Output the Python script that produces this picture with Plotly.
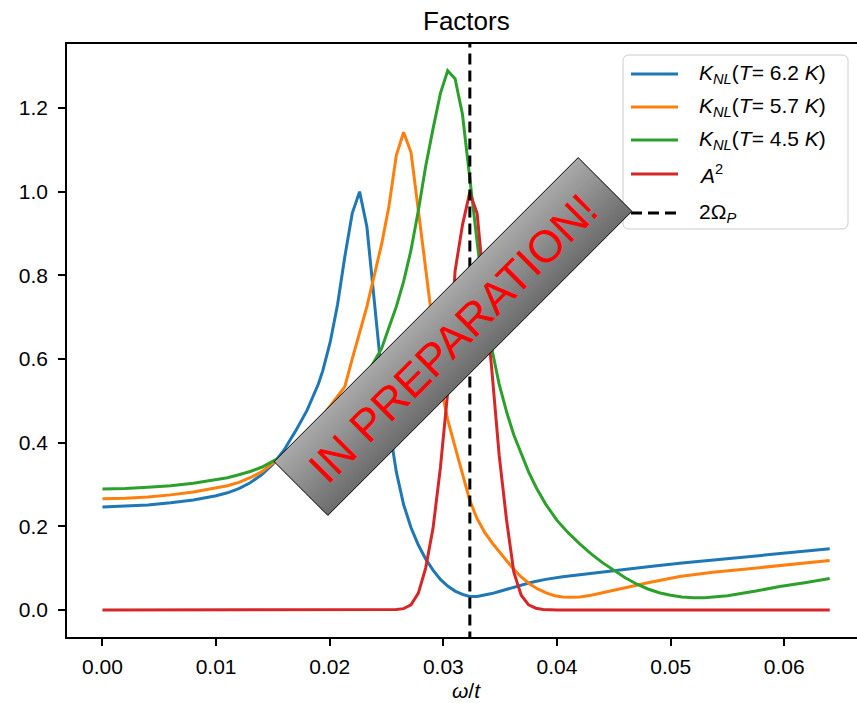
import plotly.graph_objects as go

# ---------------------------------------------------------------- data
# nonlinear kernel K_NL(omega/t) for three temperatures, and A^2
X_T62 = [0.0, 0.002, 0.004, 0.006, 0.008, 0.010, 0.011, 0.012, 0.013, 0.014,
         0.015, 0.016, 0.017, 0.018, 0.019, 0.01939, 0.02004, 0.02069, 0.02133,
         0.02198, 0.02263, 0.02327, 0.02392, 0.02457, 0.02521, 0.02586, 0.0265,
         0.02715, 0.0278, 0.02844, 0.02909, 0.02974, 0.03038, 0.03103, 0.03168,
         0.03232, 0.03297, 0.03362, 0.03426, 0.03491, 0.0355, 0.0362, 0.0369,
         0.0376, 0.0383, 0.039, 0.0405, 0.042, 0.045, 0.048, 0.051, 0.054,
         0.057, 0.060, 0.064]
K_T62 = [0.246, 0.248, 0.251, 0.256, 0.263, 0.273, 0.280, 0.290, 0.304, 0.323,
         0.348, 0.383, 0.428, 0.477, 0.540, 0.572, 0.640, 0.730, 0.845,
         0.948, 1.000, 0.916, 0.730, 0.562, 0.443, 0.330, 0.252,
         0.197, 0.155, 0.122, 0.095, 0.073, 0.057, 0.045, 0.037,
         0.032, 0.032, 0.035, 0.039, 0.044, 0.049, 0.055, 0.060,
         0.065, 0.069, 0.073, 0.079, 0.084, 0.094, 0.103, 0.112, 0.120,
         0.128, 0.136, 0.146]

X_T57 = [0.0, 0.002, 0.004, 0.006, 0.008, 0.010, 0.011, 0.012, 0.013, 0.014,
         0.015, 0.016, 0.017, 0.018, 0.019, 0.020, 0.02069, 0.02133, 0.02198,
         0.02263, 0.02327, 0.02392, 0.02457, 0.02521, 0.02586, 0.0265, 0.02715,
         0.0278, 0.02844, 0.02909, 0.02974, 0.03038, 0.03103, 0.03168, 0.03232,
         0.03297, 0.03362, 0.0343, 0.035, 0.0355, 0.0361, 0.0368, 0.0376, 0.0383,
         0.0391, 0.0398, 0.0405, 0.0412, 0.042, 0.043, 0.044, 0.0452, 0.0464,
         0.048, 0.0508, 0.0537, 0.0567, 0.060, 0.064]
K_T57 = [0.266, 0.267, 0.270, 0.275, 0.282, 0.291, 0.297, 0.305, 0.316, 0.330,
         0.350, 0.372, 0.395, 0.420, 0.450, 0.485, 0.510, 0.534, 0.600,
         0.665, 0.725, 0.800, 0.875, 0.965, 1.087, 1.142, 1.094,
         0.955, 0.810, 0.675, 0.540, 0.455, 0.390, 0.325, 0.262,
         0.218, 0.186, 0.160, 0.137, 0.120, 0.100, 0.080, 0.062, 0.050,
         0.040, 0.034, 0.031, 0.030, 0.031, 0.035, 0.041, 0.049, 0.057,
         0.065, 0.080, 0.090, 0.098, 0.107, 0.118]

X_T45 = [0.0, 0.002, 0.004, 0.006, 0.008, 0.010, 0.011, 0.012, 0.013, 0.014,
         0.015, 0.016, 0.017, 0.018, 0.019, 0.0205, 0.022, 0.0233, 0.02457,
         0.02521, 0.02586, 0.0265, 0.02715, 0.0278, 0.02844, 0.02909, 0.02974,
         0.03038, 0.03103, 0.03168, 0.03232, 0.03297, 0.03362, 0.03426, 0.03491,
         0.0356, 0.0362, 0.0369, 0.0375, 0.0382, 0.039, 0.040, 0.041, 0.042,
         0.043, 0.044, 0.045, 0.046, 0.047, 0.048, 0.049, 0.050, 0.051, 0.052,
         0.053, 0.054, 0.055, 0.0575, 0.0596, 0.0618, 0.064]
K_T45 = [0.289, 0.290, 0.293, 0.297, 0.303, 0.311, 0.316, 0.323, 0.331, 0.341,
         0.355, 0.370, 0.386, 0.405, 0.425, 0.465, 0.515, 0.565, 0.625,
         0.675, 0.725, 0.785, 0.860, 0.955, 1.060, 1.150, 1.235,
         1.289, 1.270, 1.185, 1.030, 0.880, 0.735, 0.625, 0.540,
         0.470, 0.418, 0.368, 0.330, 0.291, 0.253, 0.214, 0.184, 0.158,
         0.134, 0.113, 0.094, 0.077, 0.062, 0.050, 0.041, 0.035, 0.031, 0.029,
         0.029, 0.031, 0.034, 0.045, 0.056, 0.065, 0.075]

X_A2 = [0.0, 0.024, 0.0252, 0.02586, 0.0265, 0.02715, 0.0278, 0.02844, 0.02909,
        0.02974, 0.03038, 0.03103, 0.03168, 0.03232, 0.03297, 0.03362, 0.03426,
        0.03491, 0.03556, 0.0362, 0.03685, 0.0375, 0.03814, 0.03879, 0.040, 0.064]
A2 = [0.0, 0.0, 0.0, 0.001, 0.003, 0.012, 0.04, 0.10, 0.195,
      0.34, 0.52, 0.81, 0.92, 0.998, 0.948, 0.765, 0.575,
      0.37, 0.215, 0.09, 0.035, 0.012, 0.004, 0.001, 0.0, 0.0]

OMEGA_P2 = 0.03233  # 2*Omega_P

X_TICKS = [0.0, 0.01, 0.02, 0.03, 0.04, 0.05, 0.06]
X_TICK_TEXT = ["0.00", "0.01", "0.02", "0.03", "0.04", "0.05", "0.06"]
Y_TICKS = [0.0, 0.2, 0.4, 0.6, 0.8, 1.0, 1.2]
Y_TICK_TEXT = ["0.0", "0.2", "0.4", "0.6", "0.8", "1.0", "1.2"]

LABELS = [
    "<i>K</i><sub><i>NL</i></sub>(<i>T</i>= 6.2 <i>K</i>)",
    "<i>K</i><sub><i>NL</i></sub>(<i>T</i>= 5.7 <i>K</i>)",
    "<i>K</i><sub><i>NL</i></sub>(<i>T</i>= 4.5 <i>K</i>)",
    "<i>A</i><sup>2</sup>",
    "2Ω<sub><i>P</i></sub>",
]
COLORS = ["#1f77b4", "#ff7f0e", "#2ca02c", "#d62728", "black"]

# ---------------------------------------------------------------- layout geometry (pixels)
FIG_W, FIG_H = 857, 703
AX_L, AX_R, AX_T, AX_B = 67, 857, 44, 637
FONT = "Liberation Sans, Arial, Helvetica, sans-serif"


def paper(px, py):
    return (px - AX_L) / (AX_R - AX_L), (AX_B - py) / (AX_B - AX_T)


def P(x, y):
    a, b = paper(x, y)
    return f"{a:.5f},{b:.5f}"


def poly_path(points):
    return "M " + " L ".join(P(x, y) for x, y in points) + " Z"


fig = go.Figure()

series = [(X_T62, K_T62), (X_T57, K_T57), (X_T45, K_T45), (X_A2, A2)]
for (xs, ys), name, color in zip(series, LABELS, COLORS):
    fig.add_trace(go.Scatter(x=xs, y=ys, mode="lines", name=name,
                             line=dict(color=color, width=3),
                             showlegend=False, hoverinfo="skip"))

fig.add_trace(go.Scatter(x=[OMEGA_P2, OMEGA_P2], y=[-0.2, 1.5], mode="lines",
                         line=dict(color="black", width=3, dash="11px,6px"),
                         showlegend=False, hoverinfo="skip"))

shapes = []
annotations = []

# legend box with rounded corners
lx0, lx1, ly0, ly1, r = 623, 848, 55, 229, 6
legend_path = (f"M {P(lx0 + r, ly0)} L {P(lx1 - r, ly0)} Q {P(lx1, ly0)} {P(lx1, ly0 + r)} "
               f"L {P(lx1, ly1 - r)} Q {P(lx1, ly1)} {P(lx1 - r, ly1)} "
               f"L {P(lx0 + r, ly1)} Q {P(lx0, ly1)} {P(lx0, ly1 - r)} "
               f"L {P(lx0, ly0 + r)} Q {P(lx0, ly0)} {P(lx0 + r, ly0)} Z")
shapes.append(dict(type="path", path=legend_path, xref="paper", yref="paper",
                   fillcolor="rgba(255,255,255,0.8)", line=dict(color="#cccccc", width=1),
                   layer="above"))

row_y = [74, 107, 140, 174, 213]
for i, (lab, col, yy) in enumerate(zip(LABELS, COLORS, row_y)):
    x0, y0 = paper(631, yy)
    x1, _ = paper(678, yy)
    shapes.append(dict(type="line", xref="paper", yref="paper", x0=x0, x1=x1, y0=y0, y1=y0,
                       line=dict(color=col, width=3, dash="11px,6px" if i == 4 else "solid"),
                       layer="above"))
    tx, ty = paper(697, yy)
    annotations.append(dict(text=lab, x=tx, y=ty, xref="paper", yref="paper",
                            xanchor="left", yanchor="middle", showarrow=False,
                            font=dict(size=21, color="black", family=FONT)))

# diagonal "in preparation" banner with a shaded fill
cx, cy = 453.0, 336.5
half_len, half_wid = 215.0, 38.0
ux, uy = 0.70711, -0.70711   # along the banner (up-right)
vx, vy = 0.70711, 0.70711    # across the banner (down-right)
light, dark = (170, 170, 170), (108, 108, 108)
n_strips = 32
for k in range(n_strips):
    s0 = max(-half_wid + 2 * half_wid * k / n_strips - 0.4, -half_wid)
    s1 = min(-half_wid + 2 * half_wid * (k + 1) / n_strips + 0.4, half_wid)
    t = (k + 0.5) / n_strips
    c = tuple(int(round(light[j] + (dark[j] - light[j]) * t)) for j in range(3))
    pts = [(cx - half_len * ux + s0 * vx, cy - half_len * uy + s0 * vy),
           (cx + half_len * ux + s0 * vx, cy + half_len * uy + s0 * vy),
           (cx + half_len * ux + s1 * vx, cy + half_len * uy + s1 * vy),
           (cx - half_len * ux + s1 * vx, cy - half_len * uy + s1 * vy)]
    shapes.append(dict(type="path", path=poly_path(pts), xref="paper", yref="paper",
                       fillcolor=f"rgb({c[0]},{c[1]},{c[2]})", line=dict(width=0),
                       layer="above"))
border = [(cx - half_len * ux - half_wid * vx, cy - half_len * uy - half_wid * vy),
          (cx + half_len * ux - half_wid * vx, cy + half_len * uy - half_wid * vy),
          (cx + half_len * ux + half_wid * vx, cy + half_len * uy + half_wid * vy),
          (cx - half_len * ux + half_wid * vx, cy - half_len * uy + half_wid * vy)]
shapes.append(dict(type="path", path=poly_path(border), xref="paper", yref="paper",
                   fillcolor="rgba(0,0,0,0)", line=dict(color="black", width=1),
                   layer="above"))

bx, by = paper(453, 338)
annotations.append(dict(text="IN PREPARATION!", x=bx, y=by, xref="paper", yref="paper",
                        xanchor="center", yanchor="middle", showarrow=False, textangle=-45,
                        font=dict(size=45, color="red", family=FONT)))

# title and x-axis label
tx, ty = paper(466.5, 21)
annotations.append(dict(text="Factors", x=tx, y=ty, xref="paper", yref="paper",
                        xanchor="center", yanchor="middle", showarrow=False,
                        font=dict(size=26, color="black", family=FONT)))
tx, ty = paper(466.5, 690)
annotations.append(dict(text="<i>ω</i>/<i>t</i>", x=tx, y=ty, xref="paper", yref="paper",
                        xanchor="center", yanchor="middle", showarrow=False,
                        font=dict(size=21, color="black", family=FONT)))

fig.update_layout(
    width=FIG_W, height=FIG_H,
    margin=dict(l=AX_L, r=FIG_W - AX_R, t=AX_T, b=FIG_H - AX_B),
    paper_bgcolor="white", plot_bgcolor="white",
    showlegend=False,
    shapes=shapes, annotations=annotations,
    font=dict(family=FONT, color="black"),
    xaxis=dict(range=[-0.00312, 0.0664], tickvals=X_TICKS, ticktext=X_TICK_TEXT,
               showline=True, linecolor="black", linewidth=1.6, mirror=True,
               ticks="outside", ticklen=7, tickwidth=1.6, tickcolor="black",
               showgrid=False, zeroline=False, tickfont=dict(size=21, family=FONT),
               ticklabelstandoff=3),
    yaxis=dict(range=[-0.0648, 1.353], tickvals=Y_TICKS, ticktext=Y_TICK_TEXT,
               showline=True, linecolor="black", linewidth=1.6, mirror=False,
               ticks="outside", ticklen=7, tickwidth=1.6, tickcolor="black",
               showgrid=False, zeroline=False, tickfont=dict(size=21, family=FONT),
               ticklabelstandoff=6),
)

fig.write_html("out.html")
